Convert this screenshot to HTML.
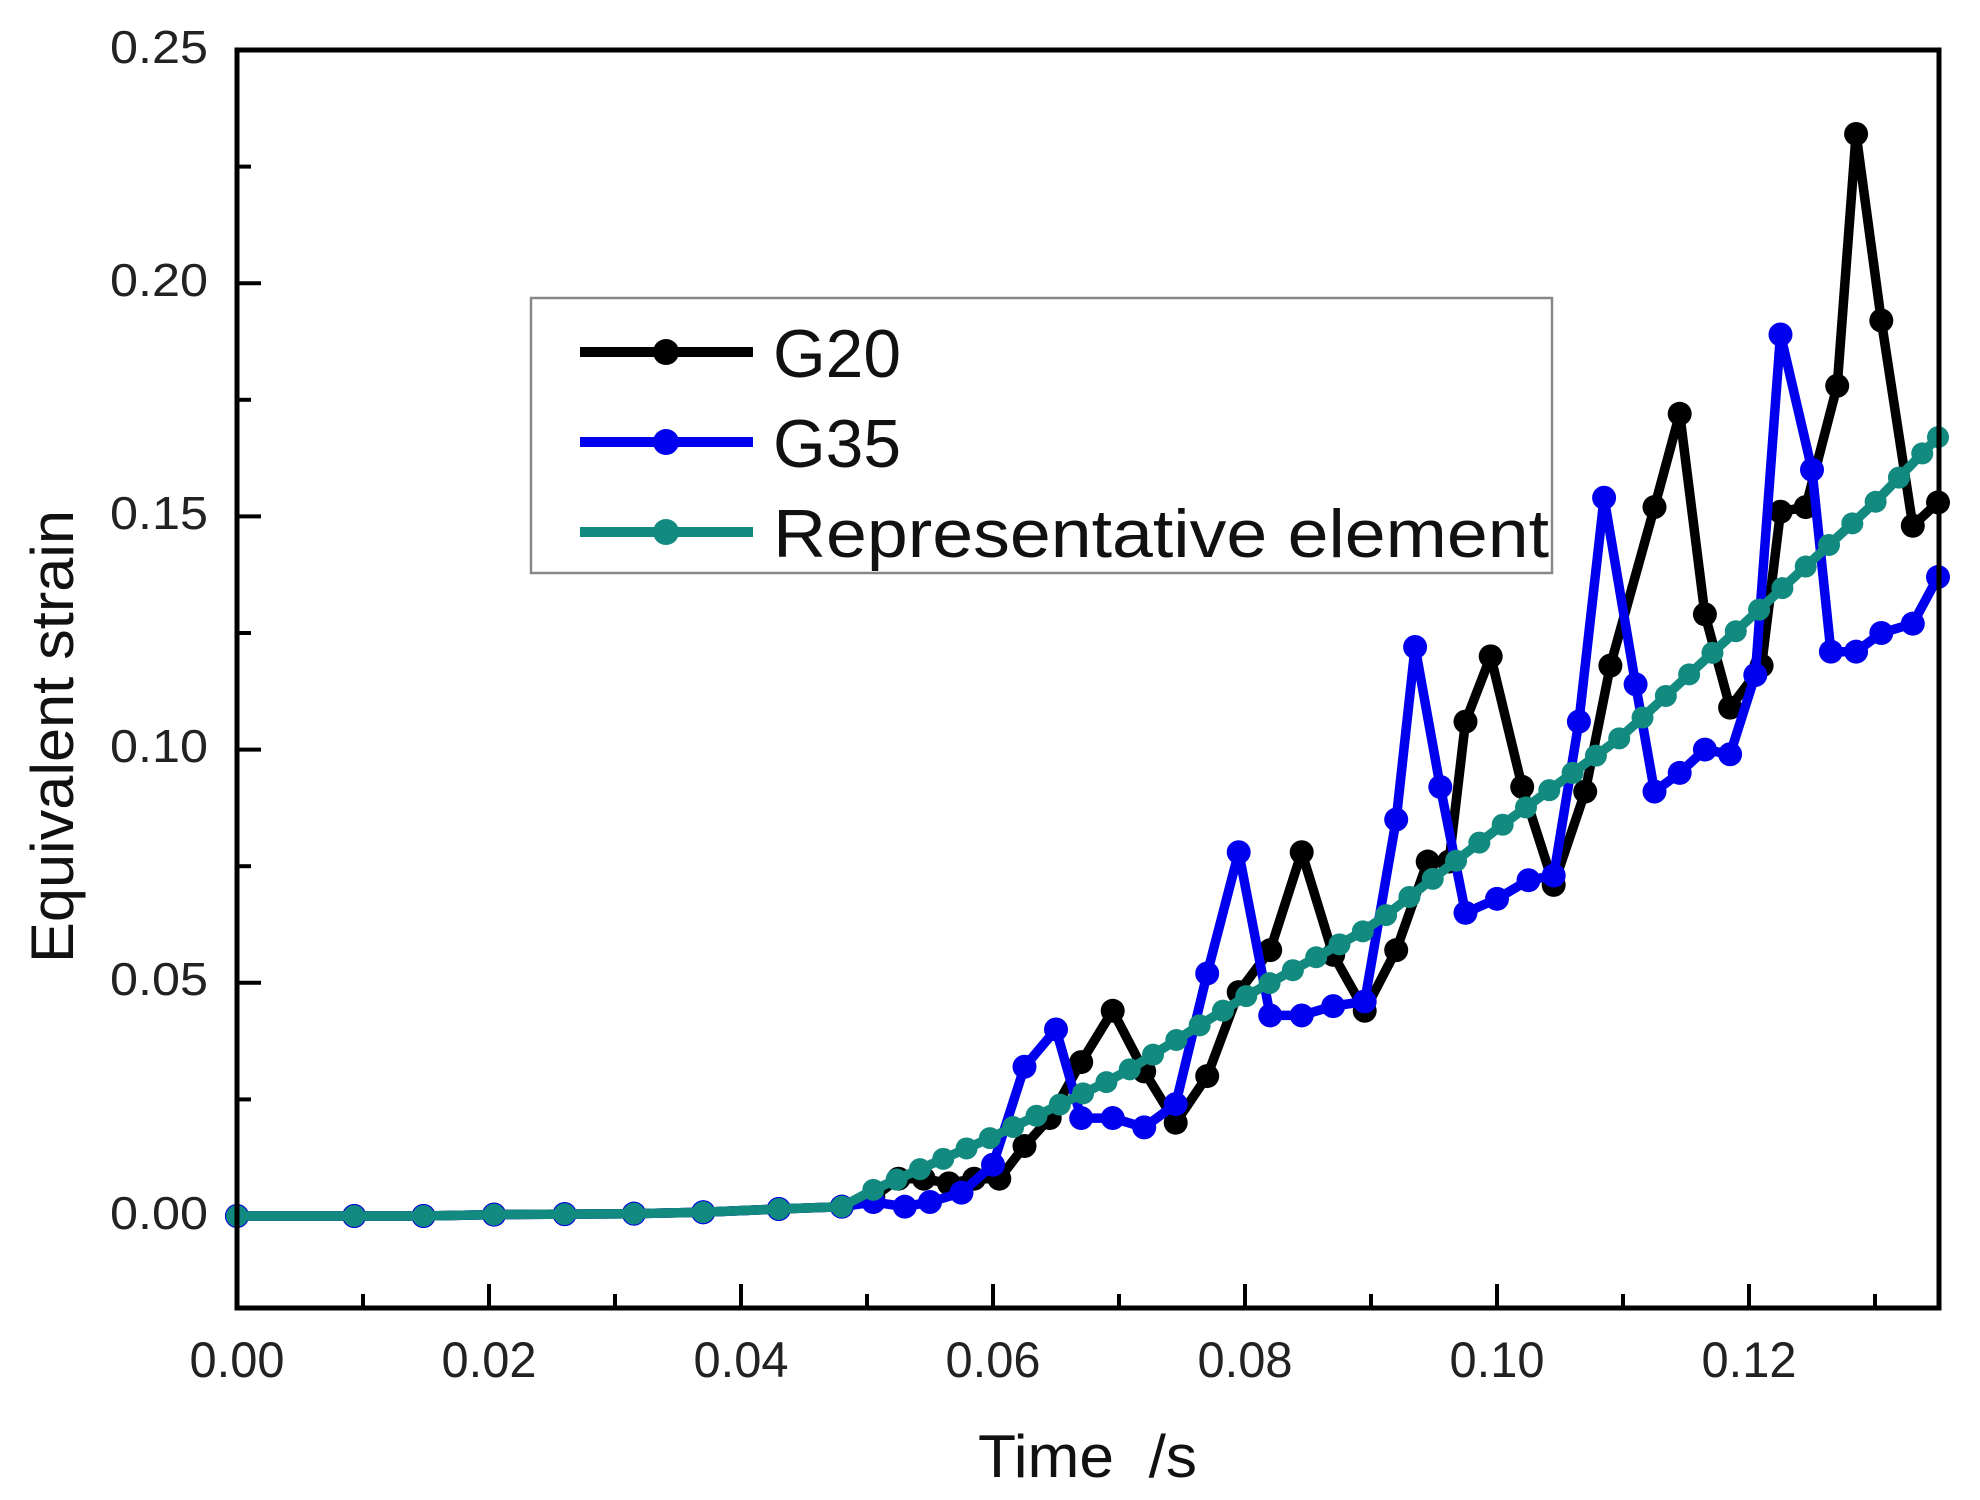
<!DOCTYPE html>
<html><head><meta charset="utf-8"><style>
html,body{margin:0;padding:0;background:#fff;}
svg{display:block;font-family:"Liberation Sans",sans-serif;}
</style></head><body>
<svg id="s" width="1980" height="1500" viewBox="0 0 1980 1500" xmlns="http://www.w3.org/2000/svg">
<rect width="1980" height="1500" fill="#fff"/>
<g id="ticks" stroke="#000" stroke-width="4"></g>
<g id="data"></g>
<rect x="237" y="50" width="1702" height="1258" fill="none" stroke="#000" stroke-width="5"/>
<g fill="#222" font-size="46" text-anchor="end">
<text x="208" y="63" textLength="98" lengthAdjust="spacingAndGlyphs">0.25</text>
<text x="208" y="296" textLength="98" lengthAdjust="spacingAndGlyphs">0.20</text>
<text x="208" y="529" textLength="98" lengthAdjust="spacingAndGlyphs">0.15</text>
<text x="208" y="762" textLength="98" lengthAdjust="spacingAndGlyphs">0.10</text>
<text x="208" y="995" textLength="98" lengthAdjust="spacingAndGlyphs">0.05</text>
<text x="208" y="1229" textLength="98" lengthAdjust="spacingAndGlyphs">0.00</text>
</g>
<g fill="#222" font-size="50" text-anchor="middle">
<text x="237" y="1377" textLength="95" lengthAdjust="spacingAndGlyphs">0.00</text>
<text x="489" y="1377" textLength="95" lengthAdjust="spacingAndGlyphs">0.02</text>
<text x="741" y="1377" textLength="95" lengthAdjust="spacingAndGlyphs">0.04</text>
<text x="993" y="1377" textLength="95" lengthAdjust="spacingAndGlyphs">0.06</text>
<text x="1245" y="1377" textLength="95" lengthAdjust="spacingAndGlyphs">0.08</text>
<text x="1497" y="1377" textLength="95" lengthAdjust="spacingAndGlyphs">0.10</text>
<text x="1749" y="1377" textLength="95" lengthAdjust="spacingAndGlyphs">0.12</text>
</g>
<text x="978" y="1477" font-size="60" fill="#111" textLength="219" lengthAdjust="spacingAndGlyphs" xml:space="preserve">Time  /s</text>
<text transform="translate(73,963) rotate(-90)" font-size="60" fill="#111" textLength="453" lengthAdjust="spacingAndGlyphs">Equivalent strain</text>
<rect x="531" y="298" width="1021" height="275" fill="#fff" stroke="#888" stroke-width="2.5"/>
<g stroke-width="10" stroke-linecap="butt">
<line x1="580" y1="352" x2="753" y2="352" stroke="#000"/>
<line x1="580" y1="442" x2="753" y2="442" stroke="#0000ee"/>
<line x1="580" y1="532" x2="753" y2="532" stroke="#128a80"/>
</g>
<circle cx="666" cy="352" r="13" fill="#000"/>
<circle cx="666" cy="442" r="13" fill="#0000ee"/>
<circle cx="666" cy="532" r="13" fill="#128a80"/>
<g font-size="68" fill="#111">
<text x="773" y="377" textLength="128" lengthAdjust="spacingAndGlyphs">G20</text>
<text x="773" y="467" textLength="128" lengthAdjust="spacingAndGlyphs">G35</text>
<text x="773" y="557" textLength="776" lengthAdjust="spacingAndGlyphs">Representative element</text>
</g>
</svg>
<script>
(function(){
var NS="http://www.w3.org/2000/svg";
function X(t){return 237+12600*t;}
function Y(v){return 1216-4664*v;}
var tk=document.getElementById("ticks");
function ln(x1,y1,x2,y2){var l=document.createElementNS(NS,"line");l.setAttribute("x1",x1);l.setAttribute("y1",y1);l.setAttribute("x2",x2);l.setAttribute("y2",y2);tk.appendChild(l);}
for(var i=0;i<=13;i++){var x=X(i*0.01);ln(x,1308,x,1308-(i%2==0?24:14));}
for(var j=-1;j<=10;j++){var v=j*0.025;var y=Y(v);if(y>1306||y<52)continue;ln(237,y,237+(j%2==0?24:14),y);}
var early=[[0,0],[0.0093,0],[0.0148,0],[0.0204,0.0003],[0.026,0.0004],[0.0315,0.0005],[0.037,0.0008],[0.043,0.0015],[0.048,0.002]];
var g20=early.concat([[0.0505,0.004],[0.0525,0.008],[0.0545,0.008],[0.0565,0.007],[0.0585,0.008],[0.0605,0.008],[0.0625,0.015],[0.0645,0.021],[0.067,0.033],[0.0695,0.044],[0.072,0.031],[0.0745,0.02],[0.077,0.03],[0.0795,0.048],[0.082,0.057],[0.0845,0.078],[0.087,0.056],[0.0895,0.044],[0.092,0.057],[0.0945,0.076],[0.0962,0.076],[0.0975,0.106],[0.0995,0.12],[0.102,0.092],[0.1045,0.071],[0.107,0.091],[0.109,0.118],[0.1125,0.152],[0.1145,0.172],[0.1165,0.129],[0.1185,0.109],[0.121,0.118],[0.1225,0.151],[0.1245,0.152],[0.127,0.178],[0.1285,0.232],[0.1305,0.192],[0.133,0.148],[0.135,0.153]]);
var g35=early.concat([[0.0505,0.003],[0.053,0.002],[0.055,0.003],[0.0575,0.005],[0.06,0.011],[0.0625,0.032],[0.065,0.040],[0.067,0.021],[0.0695,0.021],[0.072,0.019],[0.0745,0.024],[0.077,0.052],[0.0795,0.078],[0.082,0.043],[0.0845,0.043],[0.087,0.045],[0.0895,0.046],[0.092,0.085],[0.0935,0.122],[0.0955,0.092],[0.0975,0.065],[0.1,0.068],[0.1025,0.072],[0.1045,0.073],[0.1065,0.106],[0.1085,0.154],[0.111,0.114],[0.1125,0.091],[0.1145,0.095],[0.1165,0.100],[0.1185,0.099],[0.1205,0.116],[0.1225,0.189],[0.125,0.160],[0.1265,0.121],[0.1285,0.121],[0.1305,0.125],[0.133,0.127],[0.135,0.137]]);
var kn=[[0.048,0.002],[0.05,0.005],[0.06,0.017],[0.07,0.03],[0.08,0.047],[0.09,0.062],[0.1,0.083],[0.11,0.103],[0.12,0.128],[0.13,0.153],[0.135,0.167]];
function f(t){for(var k=0;k<kn.length-1;k++){if(t<=kn[k+1][0]){var a=kn[k],b=kn[k+1];return a[1]+(b[1]-a[1])*(t-a[0])/(b[0]-a[0]);}}return 0.167;}
var rep=early.slice();
for(var t=0.0505;t<=0.1351;t+=0.00185){rep.push([t,f(t)]);}
rep.push([0.135,0.167]);
var d=document.getElementById("data");
function series(pts,col,r){var p=document.createElementNS(NS,"polyline");p.setAttribute("points",pts.map(function(q){return X(q[0]).toFixed(1)+","+Y(q[1]).toFixed(1);}).join(" "));p.setAttribute("fill","none");p.setAttribute("stroke",col);p.setAttribute("stroke-width","9.5");p.setAttribute("stroke-linejoin","round");d.appendChild(p);
pts.forEach(function(q){var c=document.createElementNS(NS,"circle");c.setAttribute("cx",X(q[0]));c.setAttribute("cy",Y(q[1]));c.setAttribute("r",r);c.setAttribute("fill",col);d.appendChild(c);});}
series(g20,"#000",12);
series(g35,"#0000ee",12);
series(rep,"#128a80",11);
})();
</script>
</body></html>
